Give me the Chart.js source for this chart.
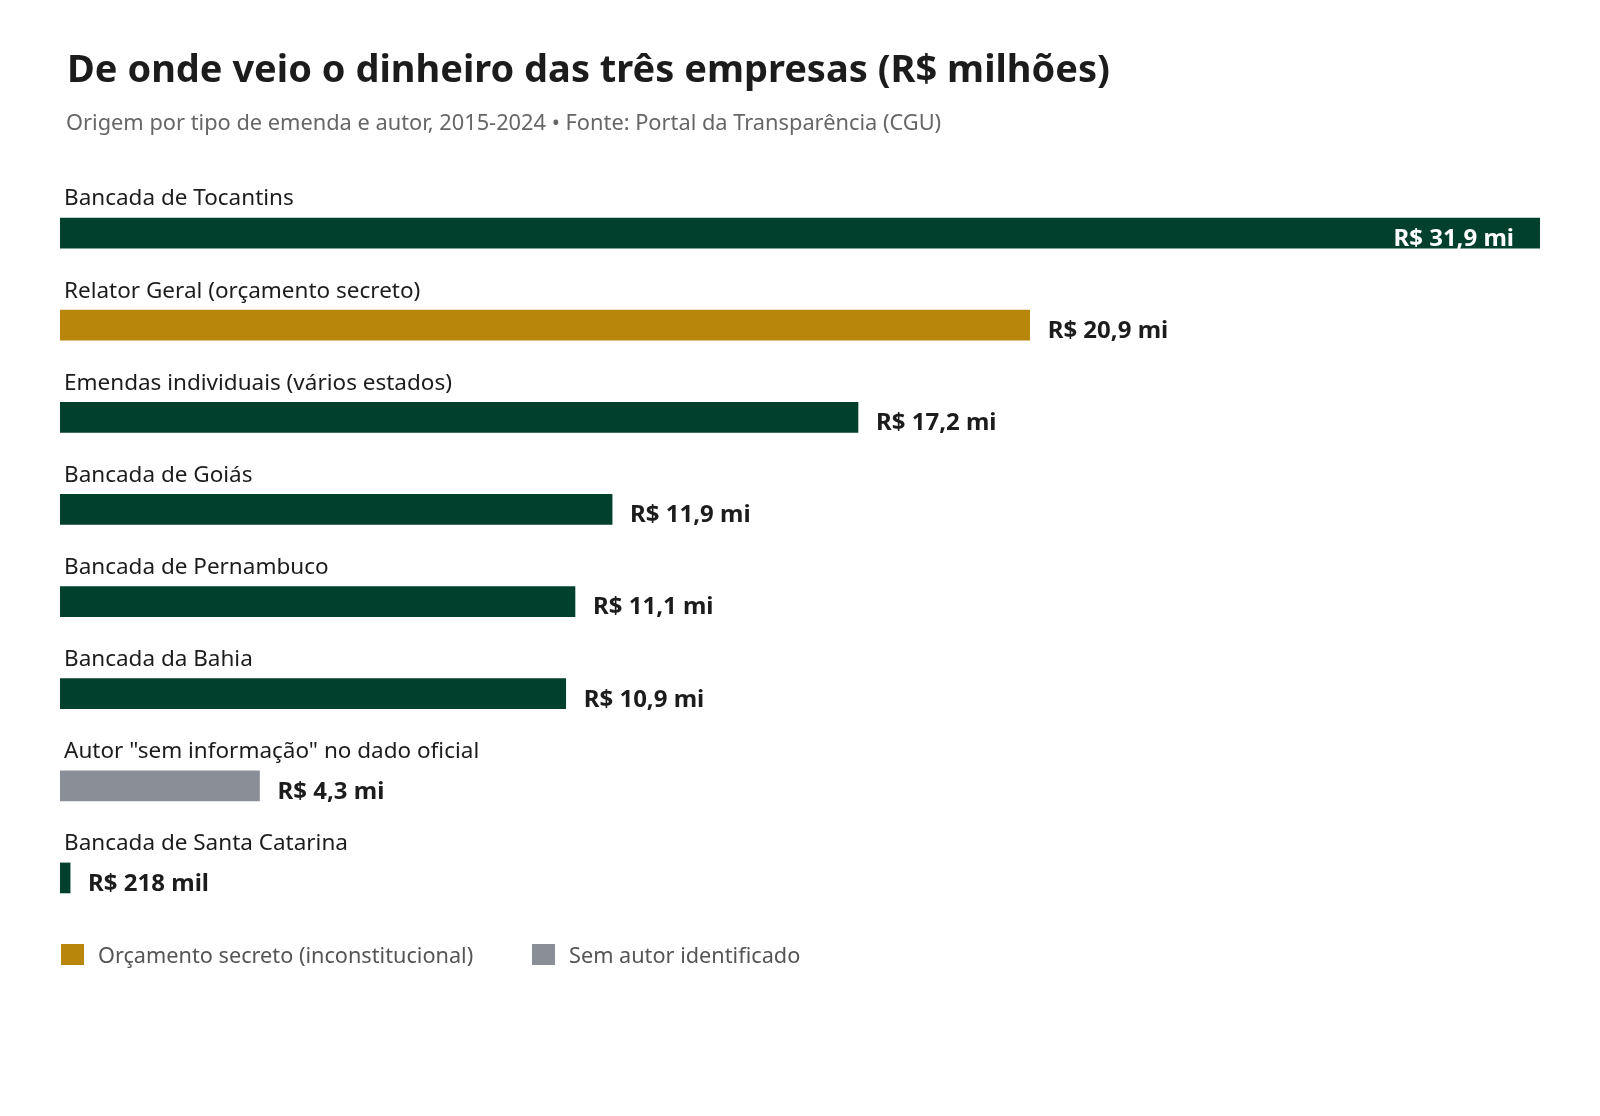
<!DOCTYPE html>
<html>
<head>
<meta charset="utf-8">
<script src="https://cdn.jsdelivr.net/npm/chart.js@4/dist/chart.umd.min.js"></script>
<style>
  body { margin: 0; background: #fff; }
  canvas { display: block; }
</style>
</head>
<body>
<canvas id="chart" width="1600" height="1116"></canvas>
<script>
// Chart data
const categories = [
    'Bancada de Tocantins',
    'Relator Geral (orçamento secreto)',
    'Emendas individuais (vários estados)',
    'Bancada de Goiás',
    'Bancada de Pernambuco',
    'Bancada da Bahia',
    'Autor "sem informação" no dado oficial',
    'Bancada de Santa Catarina'
];
const values = [31.9, 20.9, 17.2, 11.9, 11.1, 10.9, 4.3, 0.218];
const valueLabels = ['R$ 31,9 mi', 'R$ 20,9 mi', 'R$ 17,2 mi', 'R$ 11,9 mi', 'R$ 11,1 mi', 'R$ 10,9 mi', 'R$ 4,3 mi', 'R$ 218 mil'];
const barTypes = ['bancada', 'secreto', 'bancada', 'bancada', 'bancada', 'bancada', 'semAutor', 'bancada'];
const legendLabels = ['Orçamento secreto (inconstitucional)', 'Sem autor identificado'];

const title = 'De onde veio o dinheiro das três empresas (R$ milhões)';
const subtitle = 'Origem por tipo de emenda e autor, 2015-2024 • Fonte: Portal da Transparência (CGU)';

const colors = { bancada: '#02402e', secreto: '#b8860b', semAutor: '#8a8e97' };
const FONT = '"Noto Sans", "Open Sans", sans-serif';

// Draws title, row labels, value labels and legend
const textPlugin = {
    id: 'textPlugin',
    afterDatasetsDraw(chart) {
        const ctx = chart.ctx;
        ctx.save();

        ctx.textBaseline = 'middle';
        ctx.textAlign = 'left';
        ctx.fillStyle = '#1c1c1c';
        ctx.font = 'bold 38px ' + FONT;
        ctx.fillText(title, 67, 71);

        ctx.fillStyle = '#666';
        ctx.font = '21.8px ' + FONT;
        ctx.fillText(subtitle, 66, 124);

        const meta = chart.getDatasetMeta(0);
        meta.data.forEach((bar, i) => {
            ctx.textAlign = 'left';
            ctx.fillStyle = '#1c1c1c';
            ctx.font = '22.5px ' + FONT;
            ctx.fillText(categories[i], 64, bar.y - 34);

            ctx.font = 'bold 24px ' + FONT;
            if (i === 0) {
                ctx.textAlign = 'right';
                ctx.fillStyle = '#fff';
                ctx.fillText(valueLabels[i], bar.x - 26, bar.y + 6);
            } else {
                ctx.fillStyle = '#1c1c1c';
                ctx.fillText(valueLabels[i], bar.x + 18, bar.y + 6);
            }
        });

        // legend
        const legendColors = [colors.secreto, colors.semAutor];
        const legendX = [61, 532];
        legendLabels.forEach((lab, i) => {
            ctx.fillStyle = legendColors[i];
            ctx.fillRect(legendX[i], 944, 23, 21);
            ctx.textAlign = 'left';
            ctx.fillStyle = '#555';
            ctx.font = '21.7px ' + FONT;
            ctx.fillText(lab, legendX[i] + 37, 957);
        });

        ctx.restore();
    }
};

new Chart(document.getElementById('chart'), {
    type: 'bar',
    data: {
        labels: categories,
        datasets: [{
            data: values,
            backgroundColor: barTypes.map(t => colors[t]),
            barThickness: 30,
            minBarLength: 9,
            borderWidth: 0
        }]
    },
    options: {
        indexAxis: 'y',
        responsive: false,
        animation: false,
        devicePixelRatio: 1,
        layout: { padding: { left: 60, right: 60, top: 187, bottom: 192 } },
        plugins: {
            legend: { display: false },
            tooltip: { enabled: false }
        },
        scales: {
            x: { display: false, min: 0, max: 31.9 },
            y: { display: false, offset: true, grid: { display: false } }
        }
    },
    plugins: [textPlugin]
});
</script>
</body>
</html>
